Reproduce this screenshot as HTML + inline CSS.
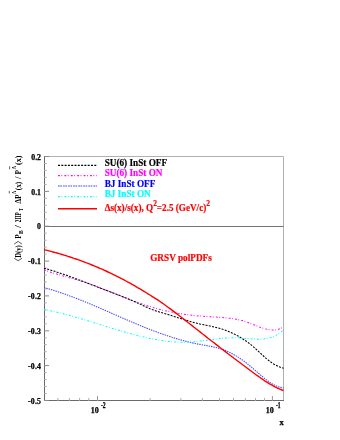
<!DOCTYPE html>
<html><head><meta charset="utf-8">
<style>
html,body{margin:0;padding:0;background:#fff;}
body{width:340px;height:440px;overflow:hidden;font-family:"Liberation Serif",serif;}
svg{display:block;will-change:transform;}
text{font-family:"Liberation Serif",serif;font-weight:bold;}
</style></head><body>
<svg width="340" height="440" viewBox="0 0 340 440">
<rect width="340" height="440" fill="#fff"/>
<!-- frame -->
<g fill="none" stroke="#b0b0b0" stroke-width="1">
<path d="M44 156.5H283.5V400.5"/>
<path d="M44 226.5H283.5" stroke="#747474"/>
</g>
<g fill="none" stroke="#6a6a6a" stroke-width="1">
<path d="M44.5 156V401"/>
<path d="M44 400.5H284"/>
</g>
<g id="ticks" fill="none" stroke-width="1"><path stroke="#888" d="M44 156.5h5M44 191.4h5M44 226.2h5M44 261.1h5M44 295.9h5M44 330.8h5M44 365.6h5M44 400.5h5"/><path stroke="#aaa" d="M44 163.5h2.7M44 170.4h2.7M44 177.4h2.7M44 184.4h2.7M44 198.3h2.7M44 205.3h2.7M44 212.3h2.7M44 219.2h2.7M44 233.2h2.7M44 240.2h2.7M44 247.1h2.7M44 254.1h2.7M44 268.0h2.7M44 275.0h2.7M44 282.0h2.7M44 289.0h2.7M44 302.9h2.7M44 309.9h2.7M44 316.8h2.7M44 323.8h2.7M44 337.8h2.7M44 344.7h2.7M44 351.7h2.7M44 358.7h2.7M44 372.6h2.7M44 379.6h2.7M44 386.6h2.7M44 393.5h2.7"/><path stroke="#999" d="M97.5 401v-5M272.4 401v-5"/><path stroke="#aaa" d="M57.9 401v-3M69.4 401v-3M79.6 401v-3M88.8 401v-3M150.1 401v-3M180.9 401v-3M202.4 401v-3M219.5 401v-3M233.5 401v-3M245.4 401v-3M255.5 401v-3M264.6 401v-3"/></g>
<!-- curves -->
<g fill="none" stroke-linejoin="round">
<path id="c_mag" stroke="#ff00ff" stroke-width="1.05" stroke-dasharray="1.9 1.5 0.8 2.2" d="M44.0 269.8 L46.0 270.5 L48.0 271.2 L50.0 271.9 L52.0 272.6 L54.0 273.2 L56.0 273.8 L58.0 274.4 L60.0 275.0 L62.0 275.6 L64.0 276.2 L66.0 276.7 L68.0 277.3 L70.0 277.9 L72.0 278.5 L74.0 279.0 L76.0 279.6 L78.0 280.2 L80.0 280.8 L82.0 281.4 L84.0 282.1 L86.0 282.8 L88.0 283.4 L90.0 284.1 L92.0 284.8 L94.0 285.6 L96.0 286.3 L98.0 287.1 L100.0 287.8 L102.0 288.6 L104.0 289.4 L106.0 290.2 L108.0 290.9 L110.0 291.7 L112.0 292.5 L114.0 293.3 L116.0 294.1 L118.0 295.0 L120.0 295.7 L122.0 296.5 L124.0 297.3 L126.0 298.1 L128.0 298.9 L130.0 299.7 L132.0 300.4 L134.0 301.2 L136.0 301.9 L138.0 302.6 L140.0 303.3 L142.0 304.0 L144.0 304.7 L146.0 305.4 L148.0 306.0 L150.0 306.6 L152.0 307.2 L154.0 307.8 L156.0 308.3 L158.0 308.9 L160.0 309.4 L162.0 309.9 L164.0 310.4 L166.0 310.9 L168.0 311.3 L170.0 311.7 L172.0 312.1 L174.0 312.5 L176.0 312.9 L178.0 313.3 L180.0 313.6 L182.0 313.9 L184.0 314.2 L186.0 314.5 L188.0 314.8 L190.0 315.0 L192.0 315.3 L194.0 315.5 L196.0 315.7 L198.0 315.9 L200.0 316.0 L202.0 316.2 L204.0 316.3 L206.0 316.5 L208.0 316.6 L210.0 316.7 L212.0 316.8 L214.0 317.0 L216.0 317.1 L218.0 317.2 L220.0 317.4 L222.0 317.5 L224.0 317.7 L226.0 317.9 L228.0 318.1 L230.0 318.3 L232.0 318.6 L234.0 318.9 L236.0 319.2 L238.0 319.6 L240.0 320.1 L242.0 320.6 L244.0 321.1 L246.0 321.8 L248.0 322.5 L250.0 323.2 L252.0 324.0 L254.0 324.8 L256.0 325.6 L258.0 326.4 L260.0 327.2 L262.0 327.9 L264.0 328.5 L266.0 329.1 L268.0 329.5 L270.0 329.8 L272.0 330.0 L274.0 330.0 L276.0 329.9 L278.0 329.4 L280.0 328.7 L282.0 327.6 L283.5 326.6"/>
<path id="c_black" stroke="#000" stroke-width="1.05" stroke-dasharray="2 1.3" d="M44.0 268.2 L46.0 268.8 L48.0 269.3 L50.0 269.9 L52.0 270.5 L54.0 271.1 L56.0 271.8 L58.0 272.4 L60.0 273.1 L62.0 273.8 L64.0 274.4 L66.0 275.1 L68.0 275.8 L70.0 276.6 L72.0 277.3 L74.0 278.0 L76.0 278.7 L78.0 279.5 L80.0 280.2 L82.0 281.0 L84.0 281.8 L86.0 282.5 L88.0 283.3 L90.0 284.1 L92.0 284.9 L94.0 285.6 L96.0 286.4 L98.0 287.2 L100.0 288.0 L102.0 288.7 L104.0 289.5 L106.0 290.3 L108.0 291.1 L110.0 291.8 L112.0 292.6 L114.0 293.3 L116.0 294.1 L118.0 294.8 L120.0 295.6 L122.0 296.4 L124.0 297.2 L126.0 298.0 L128.0 298.8 L130.0 299.6 L132.0 300.5 L134.0 301.4 L136.0 302.3 L138.0 303.2 L140.0 304.1 L142.0 305.1 L144.0 306.0 L146.0 306.9 L148.0 307.8 L150.0 308.7 L152.0 309.5 L154.0 310.2 L156.0 310.9 L158.0 311.6 L160.0 312.2 L162.0 312.7 L164.0 313.3 L166.0 313.9 L168.0 314.5 L170.0 315.1 L172.0 315.8 L174.0 316.4 L176.0 317.0 L178.0 317.7 L180.0 318.3 L182.0 319.0 L184.0 319.6 L186.0 320.2 L188.0 320.8 L190.0 321.4 L192.0 322.0 L194.0 322.5 L196.0 323.0 L198.0 323.5 L200.0 324.0 L202.0 324.4 L204.0 324.8 L206.0 325.2 L208.0 325.7 L210.0 326.1 L212.0 326.5 L214.0 327.0 L216.0 327.5 L218.0 328.0 L220.0 328.5 L222.0 329.1 L224.0 329.8 L226.0 330.5 L228.0 331.2 L230.0 332.1 L232.0 333.0 L234.0 333.9 L236.0 334.9 L238.0 336.0 L240.0 337.1 L242.0 338.4 L244.0 339.7 L246.0 341.0 L248.0 342.5 L250.0 344.0 L252.0 345.6 L254.0 347.3 L256.0 349.1 L258.0 350.9 L260.0 352.8 L262.0 354.6 L264.0 356.5 L266.0 358.3 L268.0 359.9 L270.0 361.5 L272.0 362.9 L274.0 364.2 L276.0 365.3 L278.0 366.3 L280.0 367.1 L282.0 367.8 L283.5 368.2"/>
<path id="c_blue" stroke="#4848ff" stroke-width="1.1" stroke-dasharray="1.4 1.0" d="M44.0 287.6 L46.0 288.2 L48.0 288.7 L50.0 289.3 L52.0 289.9 L54.0 290.5 L56.0 291.1 L58.0 291.8 L60.0 292.4 L62.0 293.1 L64.0 293.8 L66.0 294.5 L68.0 295.2 L70.0 296.0 L72.0 296.7 L74.0 297.5 L76.0 298.2 L78.0 299.0 L80.0 299.8 L82.0 300.6 L84.0 301.4 L86.0 302.2 L88.0 303.1 L90.0 303.9 L92.0 304.7 L94.0 305.6 L96.0 306.4 L98.0 307.3 L100.0 308.1 L102.0 309.0 L104.0 309.9 L106.0 310.8 L108.0 311.6 L110.0 312.5 L112.0 313.4 L114.0 314.3 L116.0 315.1 L118.0 316.0 L120.0 316.9 L122.0 317.8 L124.0 318.6 L126.0 319.5 L128.0 320.4 L130.0 321.2 L132.0 322.1 L134.0 322.9 L136.0 323.8 L138.0 324.6 L140.0 325.4 L142.0 326.3 L144.0 327.1 L146.0 327.9 L148.0 328.7 L150.0 329.5 L152.0 330.2 L154.0 331.0 L156.0 331.7 L158.0 332.5 L160.0 333.2 L162.0 333.9 L164.0 334.6 L166.0 335.3 L168.0 336.0 L170.0 336.6 L172.0 337.3 L174.0 337.9 L176.0 338.5 L178.0 339.1 L180.0 339.7 L182.0 340.3 L184.0 340.8 L186.0 341.3 L188.0 341.8 L190.0 342.3 L192.0 342.8 L194.0 343.2 L196.0 343.7 L198.0 344.1 L200.0 344.4 L202.0 344.8 L204.0 345.2 L206.0 345.5 L208.0 345.9 L210.0 346.2 L212.0 346.6 L214.0 347.1 L216.0 347.5 L218.0 348.1 L220.0 348.6 L222.0 349.3 L224.0 350.0 L226.0 350.8 L228.0 351.7 L230.0 352.6 L232.0 353.6 L234.0 354.7 L236.0 355.9 L238.0 357.1 L240.0 358.4 L242.0 359.8 L244.0 361.2 L246.0 362.7 L248.0 364.3 L250.0 366.0 L252.0 367.7 L254.0 369.4 L256.0 371.1 L258.0 372.8 L260.0 374.6 L262.0 376.2 L264.0 377.9 L266.0 379.5 L268.0 381.0 L270.0 382.4 L272.0 383.7 L274.0 384.8 L276.0 385.8 L278.0 386.7 L280.0 387.3 L282.0 387.7 L283.5 387.9"/>
<path id="c_cyan" stroke="#00ffff" stroke-width="1.05" stroke-dasharray="1.9 1.5 0.8 2.2" d="M44.0 309.5 L46.0 309.8 L48.0 310.2 L50.0 310.6 L52.0 311.1 L54.0 311.5 L56.0 312.0 L58.0 312.5 L60.0 312.9 L62.0 313.4 L64.0 314.0 L66.0 314.5 L68.0 315.0 L70.0 315.6 L72.0 316.1 L74.0 316.7 L76.0 317.3 L78.0 317.8 L80.0 318.4 L82.0 319.0 L84.0 319.6 L86.0 320.2 L88.0 320.8 L90.0 321.4 L92.0 322.1 L94.0 322.7 L96.0 323.3 L98.0 323.9 L100.0 324.5 L102.0 325.2 L104.0 325.8 L106.0 326.4 L108.0 327.0 L110.0 327.6 L112.0 328.3 L114.0 328.9 L116.0 329.5 L118.0 330.1 L120.0 330.7 L122.0 331.3 L124.0 331.8 L126.0 332.4 L128.0 333.0 L130.0 333.5 L132.0 334.1 L134.0 334.6 L136.0 335.1 L138.0 335.7 L140.0 336.2 L142.0 336.6 L144.0 337.1 L146.0 337.6 L148.0 338.0 L150.0 338.4 L152.0 338.8 L154.0 339.2 L156.0 339.6 L158.0 340.0 L160.0 340.3 L162.0 340.6 L164.0 340.9 L166.0 341.1 L168.0 341.4 L170.0 341.6 L172.0 341.8 L174.0 341.9 L176.0 342.0 L178.0 342.1 L180.0 342.2 L182.0 342.2 L184.0 342.2 L186.0 342.2 L188.0 342.1 L190.0 342.0 L192.0 341.9 L194.0 341.7 L196.0 341.5 L198.0 341.3 L200.0 341.1 L202.0 340.8 L204.0 340.6 L206.0 340.3 L208.0 340.0 L210.0 339.8 L212.0 339.5 L214.0 339.2 L216.0 339.0 L218.0 338.8 L220.0 338.6 L222.0 338.4 L224.0 338.2 L226.0 338.1 L228.0 338.0 L230.0 337.9 L232.0 337.8 L234.0 337.8 L236.0 337.8 L238.0 337.8 L240.0 337.9 L242.0 338.1 L244.0 338.2 L246.0 338.4 L248.0 338.5 L250.0 338.7 L252.0 338.9 L254.0 339.0 L256.0 339.1 L258.0 339.2 L260.0 339.2 L262.0 339.1 L264.0 339.0 L266.0 338.7 L268.0 338.3 L270.0 337.8 L272.0 337.2 L274.0 336.4 L276.0 335.4 L278.0 334.2 L280.0 332.8 L282.0 331.1 L283.5 329.7"/>
<path id="c_red" stroke="#ff0000" stroke-width="1.4" d="M44.0 249.6 L46.0 250.1 L48.0 250.6 L50.0 251.1 L52.0 251.7 L54.0 252.2 L56.0 252.8 L58.0 253.3 L60.0 253.9 L62.0 254.5 L64.0 255.1 L66.0 255.7 L68.0 256.4 L70.0 257.0 L72.0 257.7 L74.0 258.4 L76.0 259.0 L78.0 259.7 L80.0 260.4 L82.0 261.2 L84.0 261.9 L86.0 262.7 L88.0 263.4 L90.0 264.2 L92.0 265.0 L94.0 265.8 L96.0 266.7 L98.0 267.5 L100.0 268.4 L102.0 269.2 L104.0 270.1 L106.0 271.0 L108.0 272.0 L110.0 272.9 L112.0 273.8 L114.0 274.8 L116.0 275.8 L118.0 276.8 L120.0 277.8 L122.0 278.9 L124.0 279.9 L126.0 281.0 L128.0 282.1 L130.0 283.2 L132.0 284.3 L134.0 285.4 L136.0 286.6 L138.0 287.8 L140.0 288.9 L142.0 290.1 L144.0 291.3 L146.0 292.5 L148.0 293.8 L150.0 295.0 L152.0 296.3 L154.0 297.6 L156.0 298.9 L158.0 300.2 L160.0 301.5 L162.0 302.9 L164.0 304.3 L166.0 305.7 L168.0 307.2 L170.0 308.6 L172.0 310.1 L174.0 311.6 L176.0 313.1 L178.0 314.7 L180.0 316.2 L182.0 317.8 L184.0 319.3 L186.0 320.9 L188.0 322.5 L190.0 324.0 L192.0 325.6 L194.0 327.2 L196.0 328.8 L198.0 330.3 L200.0 331.9 L202.0 333.5 L204.0 335.0 L206.0 336.6 L208.0 338.2 L210.0 339.7 L212.0 341.3 L214.0 342.8 L216.0 344.4 L218.0 345.9 L220.0 347.5 L222.0 349.0 L224.0 350.6 L226.0 352.1 L228.0 353.7 L230.0 355.2 L232.0 356.7 L234.0 358.3 L236.0 359.8 L238.0 361.3 L240.0 362.8 L242.0 364.3 L244.0 365.8 L246.0 367.3 L248.0 368.8 L250.0 370.3 L252.0 371.8 L254.0 373.3 L256.0 374.7 L258.0 376.1 L260.0 377.5 L262.0 378.9 L264.0 380.3 L266.0 381.6 L268.0 382.8 L270.0 384.1 L272.0 385.2 L274.0 386.3 L276.0 387.3 L278.0 388.3 L280.0 389.2 L282.0 390.0 L283.5 390.5"/>
</g>
<!-- legend -->
<g fill="none">
<path stroke="#000" stroke-width="1.2" stroke-dasharray="2 1.3" d="M58 165.4H97"/>
<path stroke="#ff00ff" stroke-width="1.2" stroke-dasharray="1.9 1.5 0.8 2.2" d="M58 175.6H97"/>
<path stroke="#4848ff" stroke-width="1.2" stroke-dasharray="1.7 0.6 1.7 1.05" d="M58 186.0H97"/>
<path stroke="#00ffff" stroke-width="1.2" stroke-dasharray="1.9 1.5 0.8 2.2" d="M58 196.7H97"/>
<path stroke="#ff0000" stroke-width="1.5" d="M58 208.7H97"/>
</g>
<g font-size="9.9" lengthAdjust="spacingAndGlyphs">
<text x="104.7" y="166" fill="#000" stroke="#000" stroke-width="0.2" textLength="62.4" lengthAdjust="spacingAndGlyphs">SU(6) InSt OFF</text>
<text x="104.7" y="176.3" fill="#ff00ff" stroke="#ff00ff" stroke-width="0.2" textLength="57.8" lengthAdjust="spacingAndGlyphs">SU(6) InSt ON</text>
<text x="104.7" y="186.6" fill="#0000ff" stroke="#0000ff" stroke-width="0.2" textLength="50.6" lengthAdjust="spacingAndGlyphs">BJ InSt OFF</text>
<text x="104.7" y="197.2" fill="#00ffff" stroke="#00ffff" stroke-width="0.2" textLength="46.0" lengthAdjust="spacingAndGlyphs">BJ InSt ON</text>
<text x="104.7" y="210.5" fill="#ff0000" stroke="#ff0000" stroke-width="0.2" textLength="105.3" lengthAdjust="spacingAndGlyphs">Δs(x)/s(x), Q<tspan dy="-4.7" font-size="8">2</tspan><tspan dy="4.7">=2.5 (GeV/c)</tspan><tspan dy="-4.7" font-size="8">2</tspan></text>
<text x="150.2" y="261.1" fill="#ff0000" stroke="#ff0000" stroke-width="0.2" textLength="61.6" lengthAdjust="spacingAndGlyphs">GRSV polPDFs</text>
</g>
<!-- axis labels -->
<g font-size="7.8" text-anchor="end" fill="#000" stroke="#000" stroke-width="0.25">
<text x="41" y="159.7">0.2</text>
<text x="41" y="194.6">0.1</text>
<text x="41" y="229.4">0</text>
<text x="41" y="264.3" textLength="13.1">-0.1</text>
<text x="41" y="299.1" textLength="13.1">-0.2</text>
<text x="41" y="334.0" textLength="13.1">-0.3</text>
<text x="41" y="368.8" textLength="13.1">-0.4</text>
<text x="41" y="403.7" textLength="13.1">-0.5</text>
</g>
<g font-size="8" fill="#000" stroke="#000" stroke-width="0.25">
<text x="90.7" y="412.8">10</text><text x="100.9" y="407.7" font-size="7.4" textLength="4.7" lengthAdjust="spacingAndGlyphs">-2</text>
<text x="265.7" y="412.8">10</text><text x="275.9" y="407.7" font-size="7.4" textLength="4.7" lengthAdjust="spacingAndGlyphs">-1</text>
<text x="279.5" y="424.5" font-size="8.5">x</text>
</g>
<g id="yt" transform="translate(20.7 0) rotate(-90)" fill="#000">
<text x="-257.8" y="0" font-size="8" textLength="12.5" lengthAdjust="spacingAndGlyphs">D(y)</text>
<path d="M-258.3 -6.5L-260.7 -2.6L-258.3 1.3M-244.1 -6.5L-241.4 -2.6L-244.1 1.3" stroke="#222" stroke-width="0.75" fill="none"/>
<text x="-238.7" y="0" font-size="8" textLength="4.4" lengthAdjust="spacingAndGlyphs">P</text>
<text x="-234" y="2.4" font-size="6" textLength="3.7" lengthAdjust="spacingAndGlyphs">B</text>
<text x="-228" y="0" font-size="8" textLength="2.9" lengthAdjust="spacingAndGlyphs">/</text>
<text x="-222.2" y="0" font-size="8" textLength="9.8" lengthAdjust="spacingAndGlyphs">2ΠP</text>
<text x="-210.9" y="2.4" font-size="6" textLength="2.9" lengthAdjust="spacingAndGlyphs">T</text>
<text x="-203.6" y="0" font-size="8" textLength="9.1" lengthAdjust="spacingAndGlyphs">ΔP</text>
<text x="-194.2" y="-4.9" font-size="6.2" textLength="3.5" lengthAdjust="spacingAndGlyphs" font-weight="normal">Λ</text>
<text x="-190.2" y="0" font-size="8" textLength="8.4" lengthAdjust="spacingAndGlyphs">(x)</text>
<text x="-178.9" y="0" font-size="8" textLength="2.5" lengthAdjust="spacingAndGlyphs">/</text>
<text x="-174.4" y="0" font-size="8" textLength="4.5" lengthAdjust="spacingAndGlyphs">P</text>
<text x="-169.3" y="-4.9" font-size="6.2" textLength="3.3" lengthAdjust="spacingAndGlyphs" font-weight="normal">Λ</text>
<text x="-165" y="0" font-size="8" textLength="9.5" lengthAdjust="spacingAndGlyphs">(x)</text>
<path d="M-193.5 -11.4H-190.9M-169.3 -11.1H-166.3" stroke="#222" stroke-width="0.7" fill="none"/>
</g>
</svg>
</body></html>
